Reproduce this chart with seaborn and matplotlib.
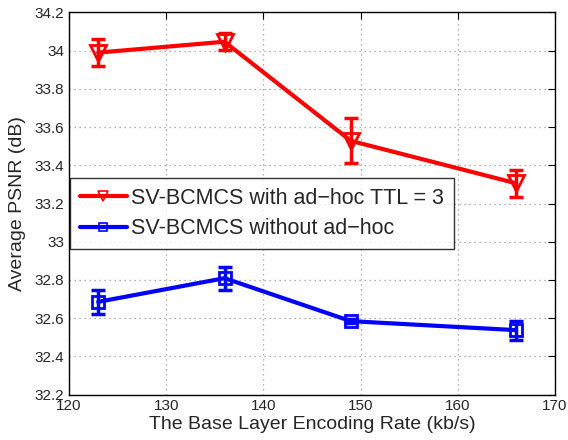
import numpy as np
import pandas as pd
import matplotlib
matplotlib.use("Agg")
import matplotlib.pyplot as plt
import seaborn as sns

# data
rate = [123, 136, 149, 166]
psnr_adhoc = [33.99, 34.047, 33.528, 33.306]
err_adhoc = [0.07, 0.044, 0.118, 0.07]
psnr_no_adhoc = [32.685, 32.809, 32.584, 32.537]
err_no_adhoc = [0.063, 0.061, 0.01, 0.05]
labels = ["SV-BCMCS with ad\u2212hoc TTL = 3", "SV-BCMCS without ad\u2212hoc"]

df = pd.DataFrame({
    "rate": rate * 2,
    "psnr": psnr_adhoc + psnr_no_adhoc,
    "err": err_adhoc + err_no_adhoc,
    "series": [labels[0]] * 4 + [labels[1]] * 4,
})

sns.set_style("white")
plt.rcParams["font.family"] = ["Liberation Sans", "DejaVu Sans"]

fig = plt.figure(figsize=(5.68, 4.4), dpi=100)
ax = fig.add_axes([0.1215, 0.1034, 0.8555, 0.8682])

colors = {labels[0]: "#ff0000", labels[1]: "#0000ff"}
markers = {labels[0]: "v", labels[1]: "s"}
sizes = {labels[0]: 12, labels[1]: 9}

for name, g in df.groupby("series", sort=False):
    ax.errorbar(g["rate"], g["psnr"], yerr=g["err"], fmt="none",
                ecolor=colors[name], elinewidth=2.5, capsize=5, capthick=2.5, zorder=3)
    sns.lineplot(data=g, x="rate", y="psnr", ax=ax, color=colors[name], lw=3,
                 marker=markers[name], markersize=sizes[name], markerfacecolor="none",
                 markeredgecolor=colors[name], markeredgewidth=2, label=name, zorder=4)

ax.set_xlim(120, 170)
ax.set_ylim(32.2, 34.2)
ax.set_xticks(np.arange(120, 171, 10))
ax.set_yticks(np.round(np.arange(32.2, 34.21, 0.2), 1))
ax.set_yticklabels(["32.2", "32.4", "32.6", "32.8", "33", "33.2", "33.4", "33.6", "33.8", "34", "34.2"])
ax.grid(True, linestyle=(0, (1, 3)), color="#999999", linewidth=0.9)
ax.tick_params(direction="in", top=True, right=True, labelsize=11, length=5, color="black")
for s in ax.spines.values():
    s.set_color("black")
    s.set_linewidth(1)

ax.set_xlabel("The Base Layer Encoding Rate (kb/s)", fontsize=14, labelpad=2)
ax.set_ylabel("Average PSNR (dB)", fontsize=14, labelpad=6)

leg = ax.legend(loc="upper left", bbox_to_anchor=(0.002, 0.567), fontsize=15.5,
                frameon=True, fancybox=False, edgecolor="black", handlelength=2.2,
                markerscale=0.6, borderpad=0.45, labelspacing=0.45, handletextpad=0.2,
                borderaxespad=0)
leg.get_frame().set_linewidth(1)
for h in leg.legend_handles:
    h.set_markeredgewidth(1.2)

fig.savefig("out.png", dpi=100)
